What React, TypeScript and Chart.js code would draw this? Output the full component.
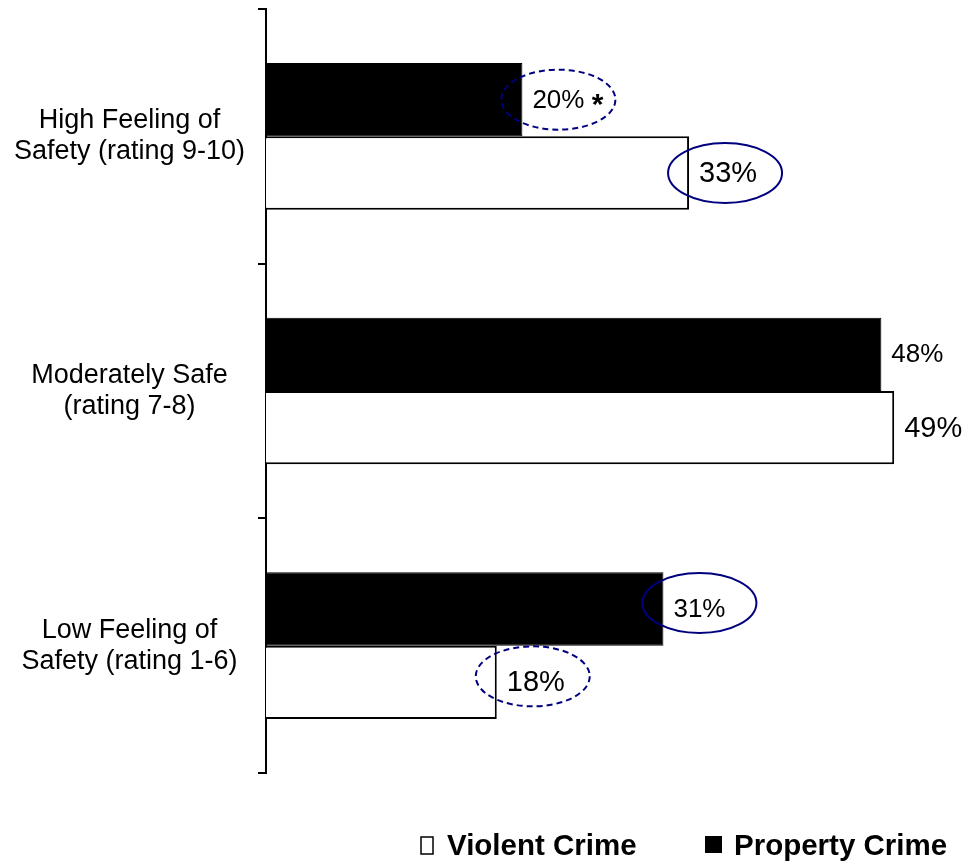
import React, { useEffect, useRef } from "react";
import { Chart, registerables } from "chart.js";

Chart.register(...registerables);

const categories: string[][] = [
  ["High Feeling of", "Safety (rating 9-10)"],
  ["Moderately Safe", "(rating 7-8)"],
  ["Low Feeling of", "Safety (rating 1-6)"],
];
const propertyCrime: number[] = [20, 48, 31];
const violentCrime: number[] = [33, 49, 18];
const propertyLabels: string[] = ["20%", "48%", "31%"];
const violentLabels: string[] = ["33%", "49%", "18%"];
const propertyNotes: string[] = ["*", "", ""];
// circled labels: "solid" | "dashed" | ""
const propertyCircles: string[] = ["dashed", "", "solid"];
const violentCircles: string[] = ["solid", "", "dashed"];

const FONT = "'Liberation Sans', Arial, Helvetica, sans-serif";
const NAVY = "#00007f";

const labelPlugin = {
  id: "valueLabels",
  afterDatasetsDraw(chart: any) {
    const ctx = chart.ctx;
    ctx.save();
    chart.data.datasets.forEach((ds: any, di: number) => {
      const meta = chart.getDatasetMeta(di);
      const isProperty = di === 0;
      const labels = isProperty ? propertyLabels : violentLabels;
      const circles = isProperty ? propertyCircles : violentCircles;
      meta.data.forEach((bar: any, i: number) => {
        const x = bar.x;
        const y = bar.y;
        const c = circles[i];
        if (c) {
          const dy = i === 2 ? -6 : 0;
          ctx.beginPath();
          ctx.ellipse(x + 36, y + dy, 57, 30, 0, 0, Math.PI * 2);
          ctx.strokeStyle = NAVY;
          ctx.lineWidth = 2;
          ctx.setLineDash(c === "dashed" ? [6, 4] : []);
          ctx.stroke();
          ctx.setLineDash([]);
        }
        ctx.fillStyle = "#000";
        ctx.textBaseline = "middle";
        ctx.textAlign = "left";
        ctx.font = `${isProperty ? 26 : 29}px ${FONT}`;
        const tx = x + 10;
        ctx.fillText(labels[i], tx, y + 1);
        if (isProperty && propertyNotes[i]) {
          const w = ctx.measureText(labels[i] + " ").width;
          ctx.font = `bold 30px ${FONT}`;
          ctx.fillText(propertyNotes[i], tx + w, y + 6);
        }
      });
    });
    ctx.restore();
  },
  afterDraw(chart: any) {
    const ctx = chart.ctx;
    ctx.save();
    ctx.fillStyle = "#000";
    ctx.strokeStyle = "#000";
    ctx.lineWidth = 1.5;
    ctx.strokeRect(421, 837, 12, 17);
    ctx.font = `bold 29.5px ${FONT}`;
    ctx.textBaseline = "alphabetic";
    ctx.textAlign = "left";
    ctx.fillText(chart.data.datasets[1].label, 447, 855);
    ctx.fillRect(705, 836, 17, 17);
    ctx.fillText(chart.data.datasets[0].label, 734, 855);
    ctx.restore();
  },
};

export default function App() {
  const ref = useRef<HTMLCanvasElement | null>(null);
  useEffect(() => {
    if (!ref.current) return;
    const chart = new Chart(ref.current, {
      type: "bar",
      data: {
        labels: categories,
        datasets: [
          {
            label: "Property Crime",
            data: propertyCrime,
            backgroundColor: "#000000",
            borderColor: "#000000",
            borderWidth: 1,
            categoryPercentage: 0.576,
            barPercentage: 1,
          },
          {
            label: "Violent Crime",
            data: violentCrime,
            backgroundColor: "#ffffff",
            borderColor: "#000000",
            borderWidth: 2,
            categoryPercentage: 0.576,
            barPercentage: 1,
          },
        ],
      },
      options: {
        indexAxis: "y",
        animation: false,
        responsive: false,
        maintainAspectRatio: false,
        layout: { padding: { top: 9, bottom: 88, left: 0, right: 62 } },
        plugins: { legend: { display: false }, tooltip: { enabled: false } },
        scales: {
          x: {
            display: false,
            min: 0,
            max: 50,
            grid: { display: false },
          },
          y: {
            afterFit: (scale: any) => {
              scale.width = 266;
              scale.paddingTop = 0;
              scale.paddingBottom = 0;
            },
            border: { display: true, color: "#000", width: 2 },
            grid: {
              offset: true,
              drawOnChartArea: false,
              drawTicks: true,
              tickLength: 8,
              color: "#000",
              lineWidth: 2,
            },
            ticks: {
              color: "#000",
              font: { family: FONT, size: 27, lineHeight: 1.15 },
              crossAlign: "center",
              padding: 13,
              autoSkip: false,
            },
          },
        },
      },
      plugins: [labelPlugin],
    } as any);
    return () => chart.destroy();
  }, []);
  return (
    <div style={{ position: "fixed", left: 0, top: 0, width: 969, height: 861, background: "#fff" }}>
      <canvas ref={ref} width={969} height={861} style={{ width: 969, height: 861, display: "block" }} />
    </div>
  );
}
